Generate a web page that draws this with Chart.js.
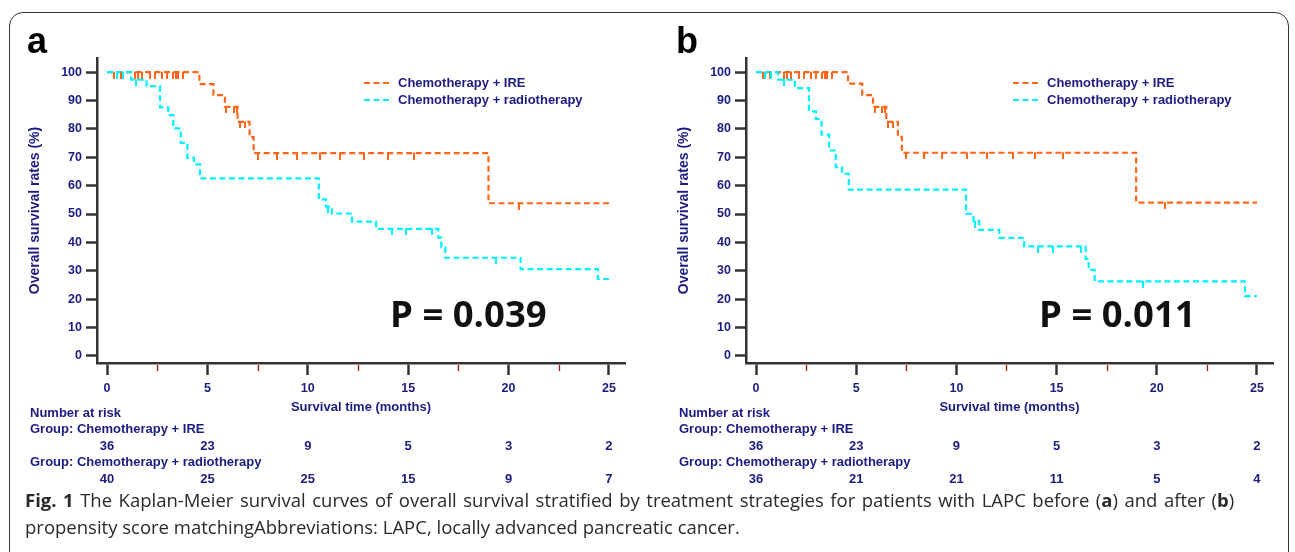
<!DOCTYPE html>
<html><head><meta charset="utf-8">
<script src="https://cdn.jsdelivr.net/npm/chart.js@4.4.1/dist/chart.umd.min.js"></script>
<style>
html,body{margin:0;padding:0;background:#fff;}
body{width:1295px;height:552px;position:relative;overflow:hidden;font-family:"Liberation Sans",Arial,sans-serif;}
#frame{position:absolute;left:9px;top:12px;width:1280px;height:620px;border:1.5px solid #333;border-radius:14px;box-sizing:border-box;}
canvas{position:absolute;top:0;}
.t{position:absolute;color:#1B1B80;font-weight:bold;font-size:13px;white-space:nowrap;line-height:1;}
.num{transform:translateX(-50%);}
.lbl{position:absolute;font-weight:bold;font-size:36px;color:#000;line-height:1;}
.p{position:absolute;font-family:"Open Sans",sans-serif;font-weight:700;font-size:36.5px;color:#111;line-height:1;white-space:nowrap;}
#cap{position:absolute;left:25px;top:486px;font-family:"Open Sans",sans-serif;font-size:18.5px;color:#2a2a2a;line-height:27px;white-space:nowrap;}
#cap .l1{word-spacing:1.7px;}
svg{position:absolute;}
</style></head>
<body>
<div id="frame"></div>
<canvas id="ca" width="647" height="492" style="left:0px;width:647px;height:492px"></canvas>
<canvas id="cb" width="646" height="492" style="left:649px;width:646px;height:492px"></canvas>
<div id="overlay"></div>
<div id="cap"><span class="l1"><b>Fig. 1</b> The Kaplan-Meier survival curves of overall survival stratified by treatment strategies for patients with LAPC before (<b>a</b>) and after (<b>b</b>)</span><br>propensity score matchingAbbreviations: LAPC, locally advanced pancreatic cancer.</div>
<script>
// ---- data ----
const seriesNames = ['Chemotherapy + IRE', 'Chemotherapy + radiotherapy'];
const xTicks = [0, 5, 10, 15, 20, 25];
const yTicks = [0, 10, 20, 30, 40, 50, 60, 70, 80, 90, 100];
const minorXTicks = [2.5, 7.5, 12.5, 17.5, 22.5];

// panel a (before matching)
const ireTimeA = [0, 4.6, 5.3, 5.87, 6.5, 7.1, 7.3, 19.0, 25];
const ireSurvA = [100, 95.8, 91.9, 87.8, 82.5, 77.1, 71.5, 53.8, 53.8];
const radTimeA = [0, 1.2, 1.97, 2.64, 3.05, 3.3, 3.67, 4.0, 4.33, 4.63, 10.55, 10.9, 11.2, 12.2, 13.4, 16.5, 16.65, 16.85, 20.6, 24.45, 25];
const radSurvA = [100, 97.4, 95.1, 87.6, 84.9, 80.2, 75.1, 69.8, 67.5, 62.6, 55.2, 52.6, 50.2, 47.3, 44.8, 41.7, 38.3, 34.6, 30.6, 27.1, 27.1];
const ireCensA = [0.35, 0.7, 1.4, 1.56, 1.73, 2.14, 2.39, 2.72, 2.97, 3.3, 3.43, 3.55, 3.8, 5.95, 6.3, 6.45, 6.6, 6.85, 7.5, 8.45, 9.45, 10.6, 11.6, 12.8, 14.0, 15.3, 20.5];
const radCensA = [0.5, 0.8, 1.45, 11.0, 14.2, 14.9, 16.2, 19.35];
const riskIreA = [36, 23, 9, 5, 3, 2];
const riskRadA = [40, 25, 25, 15, 9, 7];
const pTextA = 'P = 0.039';

// panel b (after matching)
const ireTimeB = [0, 4.59, 5.3, 5.84, 6.5, 7.08, 7.28, 18.97, 25];
const ireSurvB = [100, 96, 91.9, 87.8, 82.5, 77.2, 71.6, 54, 54];
const radTimeB = [0, 1.1, 1.94, 2.64, 2.99, 3.27, 3.65, 3.98, 4.29, 4.63, 10.48, 10.85, 11.14, 12.14, 13.38, 16.45, 16.6, 16.9, 24.4, 25];
const radSurvB = [100, 97.4, 94.4, 86.2, 83.5, 78.0, 72.4, 66.5, 64.2, 58.6, 50.1, 47.5, 44.4, 41.6, 38.6, 34.2, 30.3, 26.3, 21.1, 21.1];
const ireCensB = [0.35, 0.7, 1.4, 1.56, 1.73, 2.14, 2.39, 2.72, 2.97, 3.3, 3.43, 3.55, 3.8, 5.95, 6.3, 6.45, 6.6, 6.85, 7.5, 8.4, 9.3, 10.55, 11.55, 12.8, 13.9, 15.3, 20.4];
const radCensB = [0.45, 0.75, 1.4, 10.95, 14.05, 14.8, 16.2, 19.3];
const riskIreB = [36, 23, 9, 5, 3, 2];
const riskRadB = [36, 21, 21, 11, 5, 4];
const pTextB = 'P = 0.011';

// ---- styles ----
const ORANGE = '#FF661A';
const CYAN = '#00F2FF';
const NAVY = '#1B1B80';
const AXIS = '#333333';
const FAM = '"Liberation Sans", Arial, sans-serif';
const TICKFONT = {family: FAM, size: 12.5, weight: 'bold'};
const XTITLEFONT = {family: FAM, size: 13, weight: 'bold'};
const YTITLEFONT = {family: FAM, size: 14, weight: 'bold'};

function levelAt(ts, ss, t) {
  let v = ss[0];
  for (let i = 0; i < ts.length; i++) if (ts[i] <= t) v = ss[i];
  return v;
}
function tickMark(color) {
  const c = document.createElement('canvas');
  c.width = 2; c.height = 13;
  const g = c.getContext('2d');
  g.fillStyle = color; g.fillRect(0, 6, 2, 7);
  return c;
}
const minorTickPlugin = {
  id: 'minorTicks',
  afterDraw(chart) {
    const s = chart.scales.x, ctx = chart.ctx;
    ctx.save();
    ctx.strokeStyle = '#9A1B1B'; ctx.lineWidth = 1.3;
    minorXTicks.forEach(v => {
      const x = Math.round(s.getPixelForValue(v)) + 0.5;
      ctx.beginPath(); ctx.moveTo(x, chart.chartArea.bottom + 2); ctx.lineTo(x, chart.chartArea.bottom + 8); ctx.stroke();
    });
    ctx.restore();
  }
};

function makePanel(id, ireT, ireS, radT, radS, ireC, radC) {
  const line = (ts, ss, color) => ({
    type: 'line', data: ts.map((t, i) => ({x: t, y: ss[i]})), stepped: true,
    borderColor: color, borderWidth: 2.2, borderDash: [6, 3.5], pointRadius: 0, fill: false, order: 2
  });
  const cens = (cs, ts, ss, color) => ({
    type: 'scatter', data: cs.map(t => ({x: t, y: levelAt(ts, ss, t)})), showLine: false,
    pointStyle: tickMark(color), pointRadius: 3, order: 1
  });
  return new Chart(document.getElementById(id), {
    type: 'line',
    data: {datasets: [
      line(radT, radS, CYAN), line(ireT, ireS, ORANGE),
      cens(radC, radT, radS, CYAN), cens(ireC, ireT, ireS, ORANGE)
    ]},
    options: {
      responsive: false, animation: false, devicePixelRatio: 1, events: [],
      layout: {padding: {left: 24, top: 58, right: 22, bottom: 75}},
      plugins: {legend: {display: false}, tooltip: {enabled: false}},
      scales: {
        x: {
          type: 'linear', min: -0.5, max: 25.8,
          afterBuildTicks: s => { s.ticks = xTicks.map(v => ({value: v})); },
          afterFit: s => { s.height = 54; },
          grid: {display: true, drawOnChartArea: false, drawTicks: true, tickLength: 12, tickColor: AXIS, tickWidth: 2.5},
          border: {display: true, color: AXIS, width: 2.5},
          ticks: {color: NAVY, font: TICKFONT, padding: 6, maxRotation: 0, autoSkip: false},
          title: {display: true, text: 'Survival time (months)', color: NAVY, font: XTITLEFONT, padding: {top: 0, bottom: 2}}
        },
        y: {
          type: 'linear', min: -2.5, max: 105,
          afterBuildTicks: s => { s.ticks = yTicks.map(v => ({value: v})); },
          afterFit: s => { s.width = 73; },
          grid: {display: true, drawOnChartArea: false, drawTicks: true, tickLength: 11, tickColor: AXIS, tickWidth: 2.5},
          border: {display: true, color: AXIS, width: 2.5},
          ticks: {color: NAVY, font: TICKFONT, padding: 4, autoSkip: false},
          title: {display: true, text: 'Overall survival rates (%)', color: NAVY, font: YTITLEFONT, padding: {top: 3, bottom: 0}}
        }
      }
    },
    plugins: [minorTickPlugin]
  });
}

const overlay = document.getElementById('overlay');
function addText(cls, text, left, top) {
  const d = document.createElement('div');
  d.className = cls; d.textContent = text;
  d.style.left = left + 'px'; d.style.top = top + 'px';
  overlay.appendChild(d);
  return d;
}
function addLegendLine(left, top, color) {
  const ns = 'http://www.w3.org/2000/svg';
  const svg = document.createElementNS(ns, 'svg');
  svg.setAttribute('width', 26); svg.setAttribute('height', 4);
  svg.style.left = left + 'px'; svg.style.top = top + 'px';
  const l = document.createElementNS(ns, 'line');
  l.setAttribute('x1', 0); l.setAttribute('y1', 2); l.setAttribute('x2', 26); l.setAttribute('y2', 2);
  l.setAttribute('stroke', color); l.setAttribute('stroke-width', 2.2); l.setAttribute('stroke-dasharray', '6 3.5');
  svg.appendChild(l); overlay.appendChild(svg);
}

function decorate(chart, off, label, pText, riskIre, riskRad) {
  addText('lbl', label, off + 27, 23);
  addText('p', pText, off + 390, 295);
  addLegendLine(off + 364, 81, ORANGE);
  addLegendLine(off + 364, 98, CYAN);
  addText('t', seriesNames[0], off + 398, 76);
  addText('t', seriesNames[1], off + 398, 93);
  addText('t', 'Number at risk', off + 30, 406);
  addText('t', 'Group: ' + seriesNames[0], off + 30, 422);
  addText('t', 'Group: ' + seriesNames[1], off + 30, 455);
  const sx = chart.scales.x;
  xTicks.forEach((v, i) => {
    const x = off + sx.getPixelForValue(v);
    addText('t num', String(riskIre[i]), x, 439);
    addText('t num', String(riskRad[i]), x, 472);
  });
}

const chartA = makePanel('ca', ireTimeA, ireSurvA, radTimeA, radSurvA, ireCensA, radCensA);
const chartB = makePanel('cb', ireTimeB, ireSurvB, radTimeB, radSurvB, ireCensB, radCensB);
decorate(chartA, 0, 'a', pTextA, riskIreA, riskRadA);
decorate(chartB, 649, 'b', pTextB, riskIreB, riskRadB);
</script>
</body></html>
